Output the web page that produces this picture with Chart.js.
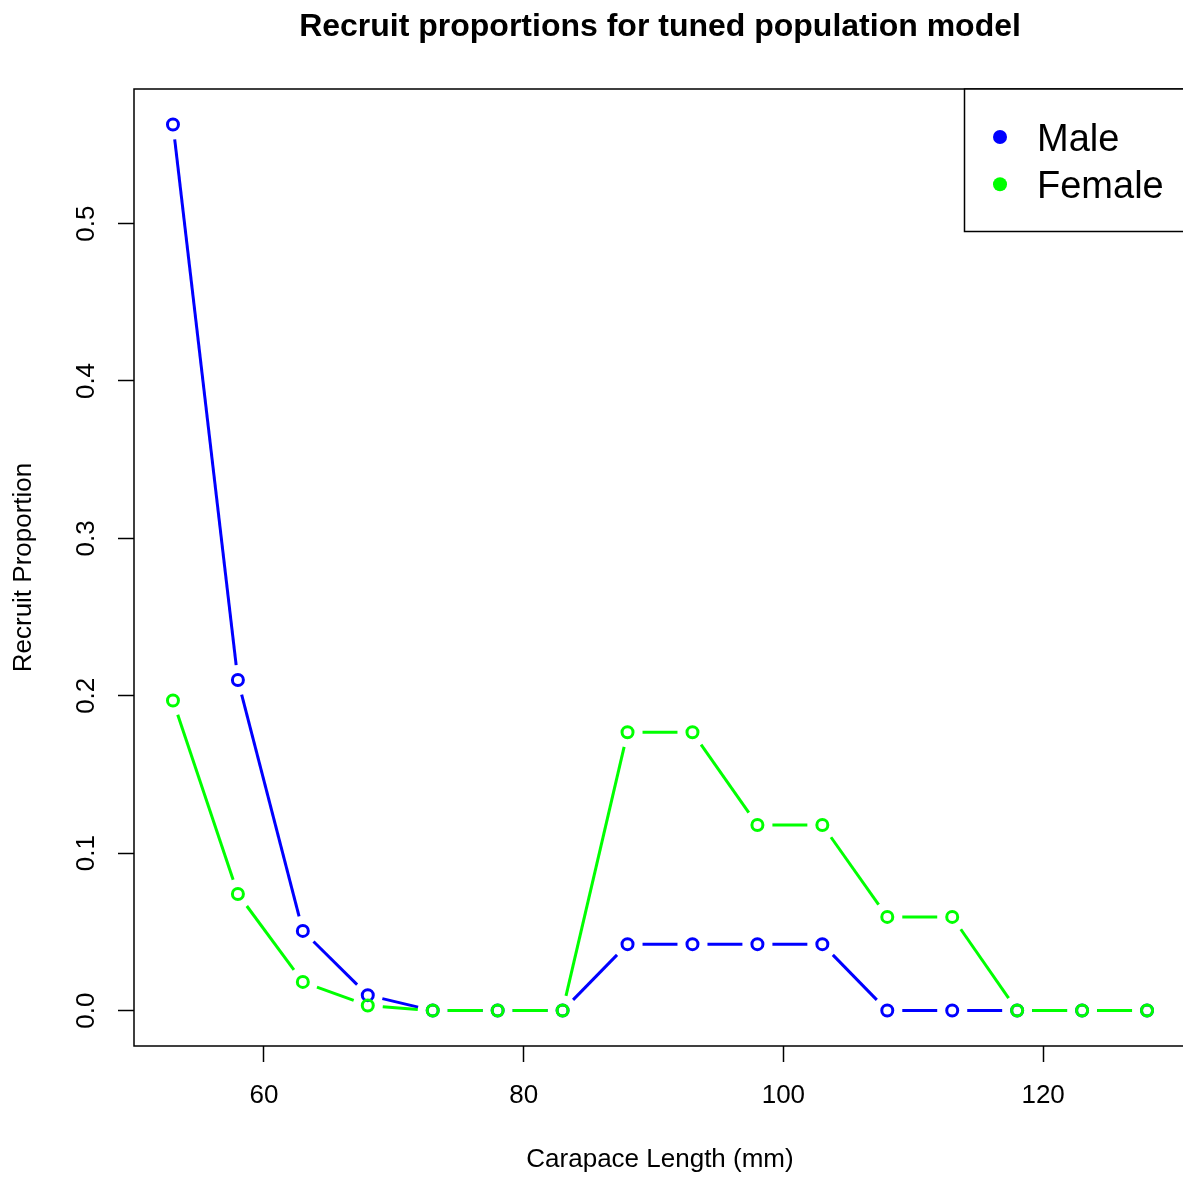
<!DOCTYPE html>
<html>
<head>
<meta charset="utf-8">
<title>Recruit proportions for tuned population model</title>
<script src="https://cdn.jsdelivr.net/npm/chart.js@4.4.1/dist/chart.umd.min.js"></script>
<style>
  html, body { margin: 0; padding: 0; background: #ffffff; overflow: hidden; }
  #wrap { width: 1186px; height: 1178px; position: relative; }
  #chart { display: block; }
</style>
</head>
<body>
<div id="wrap"><canvas id="chart" width="1186" height="1178"></canvas></div>
<script>
// Size classes (carapace length, mm) and recruit proportions per sex
const carapaceLength = [53, 58, 63, 68, 73, 78, 83, 88, 93, 98, 103, 108, 113, 118, 123, 128];
const maleProportion = [0.563, 0.210, 0.0506, 0.0098, 0, 0, 0, 0.0422, 0.0422, 0.0422, 0.0422, 0, 0, 0, 0, 0];
const femaleProportion = [0.197, 0.0741, 0.0182, 0.0032, 0, 0, 0, 0.1768, 0.1768, 0.1179, 0.1179, 0.0595, 0.0595, 0, 0, 0];

const xTickValues = [60, 80, 100, 120];
const yTickValues = [0.0, 0.1, 0.2, 0.3, 0.4, 0.5];

const seriesNames = ['Male', 'Female'];
const seriesColors = ['#0000ff', '#00ff00'];

const chartTitle = 'Recruit proportions for tuned population model';
const xAxisTitle = 'Carapace Length (mm)';
const yAxisTitle = 'Recruit Proportion';

const FONT = "'Liberation Sans', Arial, Helvetica, sans-serif";

// Axis limits padded by 4% of the data range on each side
function paddedRange(values) {
  const lo = Math.min(...values), hi = Math.max(...values);
  const pad = (hi - lo) * 0.04;
  return [lo - pad, hi + pad];
}
const [xMin, xMax] = paddedRange(carapaceLength);
const [yMin, yMax] = paddedRange(maleProportion.concat(femaleProportion));

// Line segments stop short of each point marker (lines-and-points style)
const GAP = 15;
function gapDash(ctx) {
  const L = Math.hypot(ctx.p1.x - ctx.p0.x, ctx.p1.y - ctx.p0.y);
  if (L <= 2 * GAP) return [0, L];
  return [0, GAP, L - 2 * GAP, GAP];
}

function makeSeries(name, values, color, order) {
  return {
    label: name,
    data: carapaceLength.map((x, i) => ({ x: x, y: values[i] })),
    borderColor: color,
    borderWidth: 3,
    backgroundColor: color,
    fill: false,
    tension: 0,
    pointRadius: 5.5,
    pointBorderWidth: 3,
    pointBorderColor: color,
    pointBackgroundColor: 'rgba(0,0,0,0)',
    segment: { borderDash: gapDash },
    order: order
  };
}

// Plot frame, title and legend box
const decorations = {
  id: 'decorations',
  afterDatasetsDraw(chart) {
    const { ctx, chartArea: a } = chart;
    ctx.save();
    ctx.strokeStyle = '#000';
    ctx.lineWidth = 1.5;
    ctx.strokeRect(a.left, a.top, a.right - a.left, a.bottom - a.top);
    ctx.restore();
  },
  afterDraw(chart) {
    const { ctx, chartArea: a } = chart;
    ctx.save();
    // title
    ctx.fillStyle = '#000';
    ctx.font = 'bold 32px ' + FONT;
    ctx.textAlign = 'center';
    ctx.textBaseline = 'alphabetic';
    ctx.fillText(chartTitle, (a.left + a.right) / 2, 36);

    // legend
    const boxLeft = 964.5, boxTop = a.top, boxBottom = 231.5;
    ctx.fillStyle = '#fff';
    ctx.fillRect(boxLeft, boxTop, 400, boxBottom - boxTop);
    ctx.strokeStyle = '#000';
    ctx.lineWidth = 1.5;
    ctx.strokeRect(boxLeft, boxTop, 400, boxBottom - boxTop);
    const bulletY = [137, 184.3];
    const textBaseline = [151, 198.3];
    ctx.font = '38px ' + FONT;
    ctx.textAlign = 'left';
    ctx.textBaseline = 'alphabetic';
    seriesNames.forEach((name, i) => {
      ctx.fillStyle = seriesColors[i];
      ctx.beginPath();
      ctx.arc(1000, bulletY[i], 7, 0, Math.PI * 2);
      ctx.fill();
      ctx.fillStyle = '#000';
      ctx.fillText(name, 1037, textBaseline[i]);
    });
    ctx.restore();
  }
};

const tickGrid = {
  drawOnChartArea: false,
  drawTicks: true,
  tickLength: 16,
  tickColor: '#000',
  tickWidth: 1.5
};

new Chart(document.getElementById('chart'), {
  type: 'line',
  data: {
    datasets: [
      makeSeries(seriesNames[0], maleProportion, seriesColors[0], 2),
      makeSeries(seriesNames[1], femaleProportion, seriesColors[1], 1)
    ]
  },
  options: {
    responsive: false,
    animation: false,
    events: [],
    devicePixelRatio: 1,
    layout: { autoPadding: false, padding: { top: 89, left: 0, right: 0, bottom: 0 } },
    plugins: {
      legend: { display: false },
      title: { display: false },
      tooltip: { enabled: false }
    },
    scales: {
      x: {
        type: 'linear',
        min: xMin,
        max: xMax,
        afterBuildTicks: s => { s.ticks = xTickValues.map(v => ({ value: v })); },
        afterFit: s => { s.height = 132; },
        grid: tickGrid,
        border: { display: false },
        ticks: {
          color: '#000',
          font: { family: FONT, size: 26 },
          padding: 18,
          maxRotation: 0,
          autoSkip: false,
          callback: v => String(v)
        },
        title: {
          display: true,
          text: xAxisTitle,
          color: '#000',
          font: { family: FONT, size: 26 },
          padding: { top: 0, bottom: 3 }
        }
      },
      y: {
        type: 'linear',
        min: yMin,
        max: yMax,
        afterBuildTicks: s => { s.ticks = yTickValues.map(v => ({ value: v })); },
        afterFit: s => { s.width = 134; },
        grid: tickGrid,
        border: { display: false },
        ticks: {
          color: '#000',
          font: { family: FONT, size: 26 },
          minRotation: 90,
          maxRotation: 90,
          crossAlign: 'center',
          padding: 13,
          autoSkip: false,
          callback: v => v.toFixed(1)
        },
        title: {
          display: true,
          text: yAxisTitle,
          color: '#000',
          font: { family: FONT, size: 26 },
          padding: { top: 8, bottom: 0 }
        }
      }
    }
  },
  plugins: [decorations]
});
</script>
</body>
</html>
